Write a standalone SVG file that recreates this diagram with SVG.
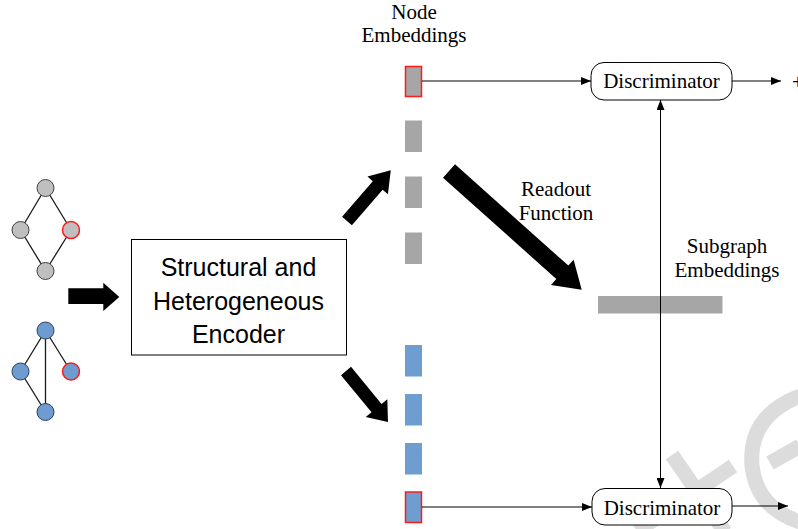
<svg xmlns="http://www.w3.org/2000/svg" width="798" height="529" viewBox="0 0 798 529">
<style>
.serif{font-family:"Liberation Serif","Times New Roman",serif;font-size:21px;fill:#000;text-anchor:middle}
.sans{font-family:"Liberation Sans",Arial,sans-serif;font-size:25px;fill:#000;text-anchor:middle}
.edge{stroke:#1a1a1a;stroke-width:1.3;fill:none}
.gnode{fill:#bfbfbf;stroke:#404040;stroke-width:1}
.bnode{fill:#6e9bd0;stroke:#2b3f5c;stroke-width:1}
.red{stroke:#ff1a1a;stroke-width:1.5}
.gbar{fill:#a6a6a6}
.bbar{fill:#6e9dd0}
.conn{stroke:#000;stroke-width:1;fill:none}
.thick{fill:#000}
.disc{fill:#fff;stroke:#000;stroke-width:1}
.wm{stroke:#dcdcdc;stroke-width:15;fill:none;stroke-linecap:butt}
</style>
<defs>
<marker id="ah" viewBox="0 0 10 8" refX="10" refY="4" markerWidth="10" markerHeight="8" markerUnits="userSpaceOnUse" orient="auto-start-reverse">
<path d="M0,0 L10,4 L0,8 Z" fill="#000"/>
</marker>
</defs>
<rect width="798" height="529" fill="#fff"/>
<g id="watermark">
<path class="wm" d="M672,455 L725,532"/>
<path class="wm" d="M637,531 L733,466"/>
<path class="wm" d="M800,396 Q748,416 752,466 Q757,508 800,522"/>
<path class="wm" d="M770,463 L800,446"/>
</g>
<g id="graph-gray">
<line class="edge" x1="45.5" y1="188" x2="20.5" y2="230"/>
<line class="edge" x1="45.5" y1="188" x2="71" y2="230"/>
<line class="edge" x1="20.5" y1="230" x2="45.5" y2="271"/>
<line class="edge" x1="71" y1="230" x2="45.5" y2="271"/>
<circle class="gnode" cx="45.5" cy="188" r="8.5"/>
<circle class="gnode" cx="20.5" cy="230" r="8.5"/>
<circle class="gnode red" cx="71" cy="230" r="8.5"/>
<circle class="gnode" cx="45.5" cy="271" r="8.5"/>
</g>
<g id="graph-blue">
<line class="edge" x1="45.5" y1="330.5" x2="20.5" y2="371.5"/>
<line class="edge" x1="45.5" y1="330.5" x2="71" y2="371.5"/>
<line class="edge" x1="45.5" y1="330.5" x2="45.5" y2="412"/>
<line class="edge" x1="20.5" y1="371.5" x2="45.5" y2="412"/>
<circle class="bnode" cx="45.5" cy="330.5" r="8.5"/>
<circle class="bnode" cx="20.5" cy="371.5" r="8.5"/>
<circle class="bnode red" cx="71" cy="371.5" r="8.5"/>
<circle class="bnode" cx="45.5" cy="412" r="8.5"/>
</g>
<g id="encoder">
<rect x="131.5" y="239.5" width="215" height="115.5" fill="#fff" stroke="#000" stroke-width="1"/>
<text class="sans" x="238.5" y="276">Structural and</text>
<text class="sans" x="238.5" y="310">Heterogeneous</text>
<text class="sans" x="238.5" y="343">Encoder</text>
</g>
<g id="node-embeddings">
<text class="serif" x="414" y="19">Node</text>
<text class="serif" x="414" y="42">Embeddings</text>
<rect class="gbar red" x="405.5" y="66.5" width="16" height="30"/>
<rect class="gbar" x="405" y="120.5" width="17" height="31.5"/>
<rect class="gbar" x="405" y="176.5" width="17" height="31.5"/>
<rect class="gbar" x="405" y="232.5" width="17" height="31.5"/>
<rect class="bbar" x="405" y="345" width="17" height="31.5"/>
<rect class="bbar" x="405" y="394" width="17" height="31.5"/>
<rect class="bbar" x="405" y="443" width="17" height="31.5"/>
<rect class="bbar red" x="405.5" y="492" width="16" height="30.5"/>
</g>
<g id="readout-label">
<text class="serif" x="556" y="196">Readout</text>
<text class="serif" x="556" y="220">Function</text>
</g>
<g id="subgraph-embeddings">
<text class="serif" x="727" y="252.5">Subgraph</text>
<text class="serif" x="727" y="276.5">Embeddings</text>
<rect class="gbar" x="598" y="296" width="124.5" height="17.5"/>
</g>
<g id="connectors">
<path class="thick" d="M68.3,288.3 L103.3,288.3 L103.3,282.7 L119.3,297 L103.3,311 L103.3,304 L68.3,304 Z"/>
<path class="thick" transform="translate(347,221) rotate(-49.2)" d="M0,-6.5 L47,-6.5 L47,-13.5 L67,0 L47,13.5 L47,6.5 L0,6.5 Z"/>
<path class="thick" transform="translate(346,371) rotate(50.5)" d="M0,-6.5 L48,-6.5 L48,-14 L66,0 L48,14 L48,6.5 L0,6.5 Z"/>
<path class="thick" transform="translate(449,171) rotate(41.8)" d="M0,-9 L152,-9 L152,-17 L178,0 L152,17 L152,9 L0,9 Z"/>
<line class="conn" x1="422" y1="81" x2="591" y2="81" marker-end="url(#ah)"/>
<line class="conn" x1="422" y1="507" x2="592" y2="507" marker-end="url(#ah)"/>
<line class="conn" x1="660.5" y1="100" x2="660.5" y2="488" marker-start="url(#ah)" marker-end="url(#ah)"/>
<line class="conn" x1="732" y1="81" x2="781" y2="81" marker-end="url(#ah)"/>
<line class="conn" x1="732" y1="506" x2="788" y2="506" marker-end="url(#ah)"/>
</g>
<g id="disc-top">
<rect class="disc" x="591" y="62.5" width="141" height="37.5" rx="13"/>
<text class="serif" x="661.5" y="88">Discriminator</text>
</g>
<g id="disc-bottom">
<rect class="disc" x="592" y="488.5" width="140" height="36.5" rx="13"/>
<text class="serif" x="662" y="515">Discriminator</text>
</g>
<g id="plus-label">
<text class="serif" x="798" y="89">+</text>
</g>
</svg>
